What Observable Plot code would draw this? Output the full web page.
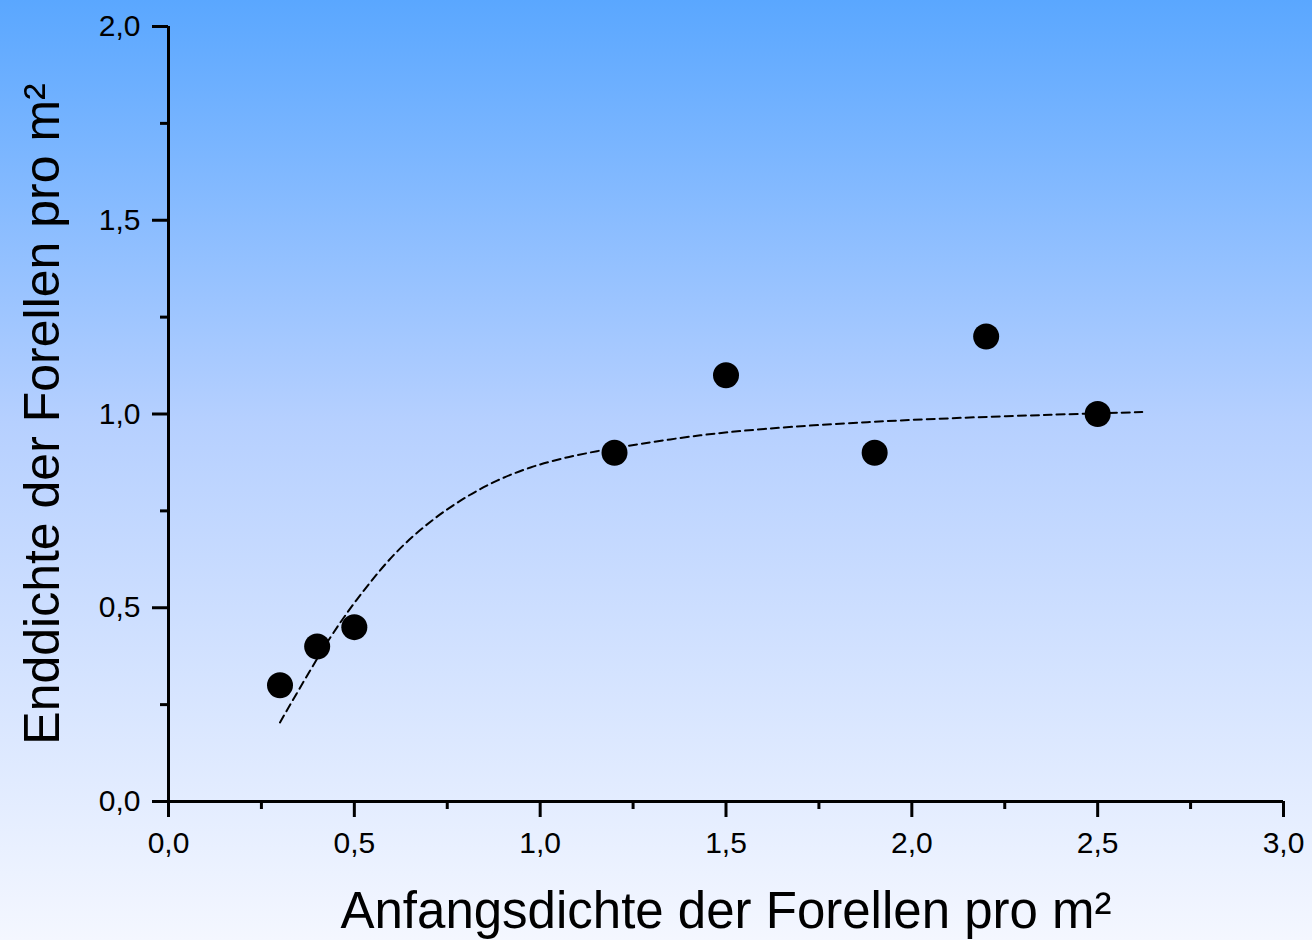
<!DOCTYPE html>
<html>
<head>
<meta charset="utf-8">
<script src="https://cdn.jsdelivr.net/npm/d3@7"></script>
<script src="https://cdn.jsdelivr.net/npm/@observablehq/plot@0.6"></script>
<style>
  html, body { margin: 0; padding: 0; width: 1312px; height: 940px; overflow: hidden;
    background: linear-gradient(to bottom, #5aa7ff 0%, #b6d0ff 45%, #f4f7ff 100%); }
  #chart svg { display: block; }
</style>
</head>
<body>
<div id="chart"></div>
<script>
// Measured data points
const startDensity = [0.3, 0.4, 0.5, 1.2, 1.5, 1.9, 2.2, 2.5];
const endDensity   = [0.3, 0.4, 0.45, 0.9, 1.1, 0.9, 1.2, 1.0];

// Fitted curve, points
const fitX = [0.30, 0.436, 0.526, 0.615, 0.705, 0.795, 0.884, 0.974, 1.064, 1.153, 1.225, 1.431, 1.611, 1.880, 2.104, 2.373, 2.62];
const fitY = [0.204, 0.424, 0.545, 0.645, 0.722, 0.782, 0.828, 0.862, 0.886, 0.904, 0.916, 0.945, 0.962, 0.979, 0.989, 0.998, 1.005];

// Ticks
const xMajor = [0, 0.5, 1.0, 1.5, 2.0, 2.5, 3.0];
const xMinor = [0.25, 0.75, 1.25, 1.75, 2.25, 2.75];
const yMajor = [0, 0.5, 1.0, 1.5, 2.0];
const yMinor = [0.25, 0.75, 1.25, 1.75];

const xLabel = "Anfangsdichte der Forellen pro m²";
const yLabel = "Enddichte der Forellen pro m²";

const points = startDensity.map((x, i) => ({x, y: endDensity[i]}));
const fit = fitX.map((x, i) => ({x, y: fitY[i]}));
const fmt = d => d.toFixed(1).replace(".", ",");

const chart = Plot.plot({
  width: 1312,
  height: 940,
  marginLeft: 168,
  marginRight: 29,
  marginTop: 26,
  marginBottom: 139,
  style: {background: "transparent", fontFamily: "'Liberation Sans', Arial, sans-serif", color: "black"},
  x: {domain: [0, 3]},
  y: {domain: [0, 2]},
  marks: [
    Plot.axisX({ticks: xMinor, tickSize: 8, strokeWidth: 3, text: null, label: null}),
    Plot.axisX({ticks: xMajor, tickSize: 16, tickPadding: 14, strokeWidth: 3, fontSize: 30, tickFormat: fmt, label: null}),
    Plot.axisY({ticks: yMinor, tickSize: 8, strokeWidth: 3, text: null, label: null}),
    Plot.axisY({ticks: yMajor, tickSize: 16, tickPadding: 12, strokeWidth: 3, fontSize: 30, tickFormat: fmt, label: null}),
    Plot.ruleY([0], {strokeWidth: 3}),
    Plot.ruleX([0], {strokeWidth: 3}),
    Plot.line(fit, {x: "x", y: "y", stroke: "black", strokeWidth: 2, strokeDasharray: "8,5", curve: "catmull-rom"}),
    Plot.dot(points, {x: "x", y: "y", r: 13, fill: "black", stroke: "none"}),
    Plot.text([xLabel], {frameAnchor: "bottom", textAnchor: "middle", lineAnchor: "middle", dy: 110, fontSize: 51, fill: "black"}),
    Plot.text([yLabel], {frameAnchor: "left", textAnchor: "middle", lineAnchor: "middle", dx: -126, rotate: -90, fontSize: 50, fill: "black"})
  ]
});
document.getElementById("chart").appendChild(chart);
</script>
</body>
</html>
